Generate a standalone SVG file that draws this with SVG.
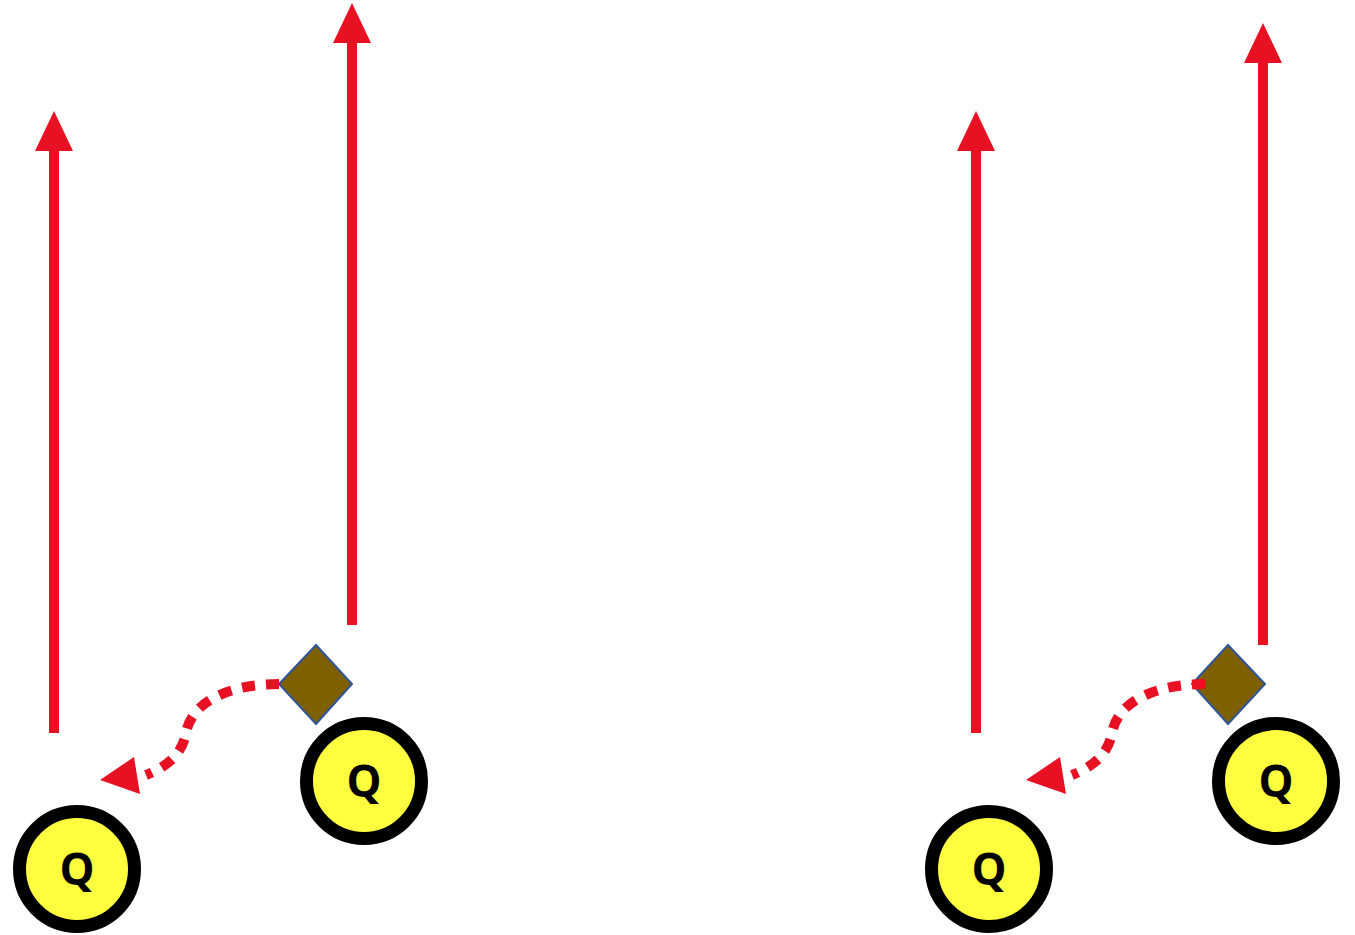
<svg xmlns="http://www.w3.org/2000/svg" width="1355" height="935" viewBox="0 0 1355 935">
  <defs>
    <style>
      .route { stroke: #E81123; stroke-width: 10; fill: none; }
      .motion { stroke: #E81123; stroke-width: 10; stroke-dasharray: 13 11; fill: none; }
      .head { fill: #E81123; }
      .player { fill: #FFFF3F; stroke: #000; stroke-width: 13; }
      .label { font-family: "Open Sans", "Noto Sans", sans-serif; font-weight: bold; font-size: 44px; fill: #000; text-anchor: middle; }
      .ball { fill: #7F6000; stroke: #2F5597; stroke-width: 2; }
    </style>
  </defs>

  <g id="connectors">
    <!-- left play: vertical routes -->
    <line class="route" x1="54" y1="733" x2="54" y2="148"/>
    <polygon class="head" points="54,111 73,151 35,151"/>
    <line class="route" x1="352" y1="625" x2="352" y2="40"/>
    <polygon class="head" points="352,3 371,43 333,43"/>
    <!-- right play: vertical routes -->
    <line class="route" x1="976" y1="733" x2="976" y2="148"/>
    <polygon class="head" points="976,111 995,151 957,151"/>
    <line class="route" x1="1263" y1="645" x2="1263" y2="60"/>
    <polygon class="head" points="1263,23 1282,63 1244,63"/>
  </g>

  <g id="ball-left">
    <polygon class="ball" points="316,645 352,684 316,724 279,684"/>
  </g>
  <g id="ball-right">
    <polygon class="ball" points="1228,645 1265,684 1228,724 1192,684"/>
  </g>

  <g id="motion">
    <path class="motion" d="M279,684 C232,684 192,700 186,733 C182,755 166,767 146,775"/>
    <polygon class="head" points="100,780 134,757 140,794"/>
    <path class="motion" d="M1205,684 C1158,684 1118,700 1112,733 C1108,755 1092,767 1072,775"/>
    <polygon class="head" points="1026,780 1060,757 1066,794"/>
  </g>

  <g id="player-left-1">
    <circle class="player" cx="77" cy="869" r="57.5"/>
    <text class="label" x="77" y="885">Q</text>
  </g>
  <g id="player-left-2">
    <circle class="player" cx="364" cy="781" r="57.5"/>
    <text class="label" x="364" y="797">Q</text>
  </g>
  <g id="player-right-1">
    <circle class="player" cx="989" cy="869" r="57.5"/>
    <text class="label" x="989" y="885">Q</text>
  </g>
  <g id="player-right-2">
    <circle class="player" cx="1276" cy="781" r="57.5"/>
    <text class="label" x="1276" y="797">Q</text>
  </g>
</svg>
